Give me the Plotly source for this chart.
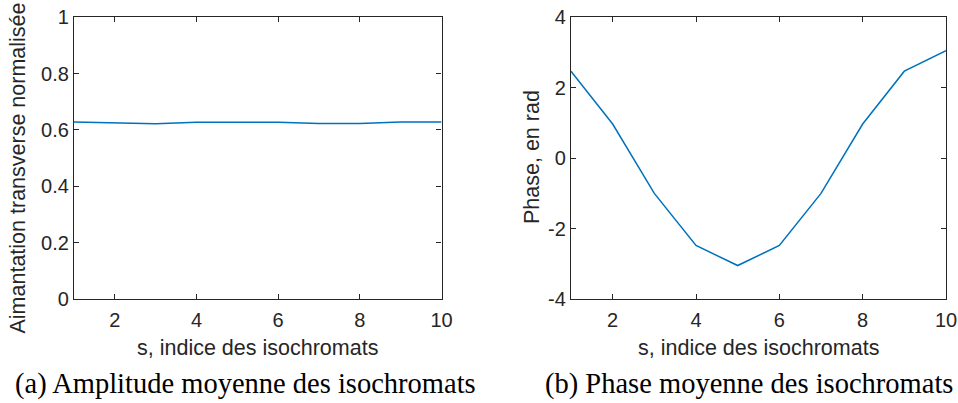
import plotly.graph_objects as go

# Data
s_index = [1, 2, 3, 4, 5, 6, 7, 8, 9, 10]
amplitude = [0.628, 0.624, 0.622, 0.627, 0.627, 0.627, 0.623, 0.623, 0.628, 0.628]
phase = [2.47, 0.97, -1.0, -2.48, -3.05, -2.48, -1.0, 0.97, 2.47, 3.05]

x_ticks = [2, 4, 6, 8, 10]
amp_ticks = [0, 0.2, 0.4, 0.6, 0.8, 1]
amp_ticklabels = ["0", "0.2", "0.4", "0.6", "0.8", "1"]
phase_ticks = [-4, -2, 0, 2, 4]
phase_ticklabels = ["-4", "-2", "0", "2", "4"]

xlabel = "s, indice des isochromats"
ylabel_a = "Aimantation transverse normalisée"
ylabel_b = "Phase, en rad"
caption_a = "(a) Amplitude moyenne des isochromats"
caption_b = "(b) Phase moyenne des isochromats"

W, H = 958, 403
LINE = "#0072BD"
AX = "#262626"
SANS = "Liberation Sans, Arial, sans-serif"
SERIF = "Liberation Serif, Times New Roman, serif"

fig = go.Figure()
fig.add_trace(go.Scatter(x=s_index, y=amplitude, mode="lines",
                         line=dict(color=LINE, width=1.5), xaxis="x", yaxis="y",
                         showlegend=False))
fig.add_trace(go.Scatter(x=s_index, y=phase, mode="lines",
                         line=dict(color=LINE, width=1.5), xaxis="x2", yaxis="y2",
                         showlegend=False))

def px_x(p):
    return p / W

def px_y(p):
    return 1 - p / H

common = dict(showgrid=False, zeroline=False, showline=True, linecolor=AX, linewidth=1.3,
              mirror="allticks", ticks="inside", ticklen=5, tickcolor=AX, tickwidth=1.2,
              ticklabeloverflow="allow", automargin=False,
              tickfont=dict(family=SANS, size=20, color=AX))

ydom = [px_y(299), px_y(17.3)]
fig.update_layout(
    template="none",
    width=W, height=H,
    margin=dict(l=0, r=0, t=0, b=0, autoexpand=False),
    paper_bgcolor="white", plot_bgcolor="white",
    showlegend=False,
    xaxis=dict(domain=[px_x(74), px_x(441.5)], range=[1, 10], tickvals=x_ticks,
               anchor="y", ticklabelstandoff=3, **common),
    yaxis=dict(domain=ydom, range=[0, 1], tickvals=amp_ticks, ticktext=amp_ticklabels,
               anchor="x", **common),
    xaxis2=dict(domain=[px_x(571), px_x(946)], range=[1, 10], tickvals=x_ticks,
                anchor="y2", ticklabelstandoff=3, **common),
    yaxis2=dict(domain=ydom, range=[-4, 4], tickvals=phase_ticks, ticktext=phase_ticklabels,
                anchor="x2", **common),
)

ann = []
tf = dict(family=SANS, size=21.5, color=AX)
ann.append(dict(text=xlabel, x=px_x(257.8), y=px_y(348), xref="paper", yref="paper",
                showarrow=False, font=tf, xanchor="center", yanchor="middle"))
ann.append(dict(text=xlabel, x=px_x(758.5), y=px_y(348), xref="paper", yref="paper",
                showarrow=False, font=tf, xanchor="center", yanchor="middle"))
ann.append(dict(text=ylabel_a, x=px_x(17.5), y=px_y(168), xref="paper", yref="paper",
                showarrow=False, font=tf, textangle=-90, xanchor="center", yanchor="middle"))
ann.append(dict(text=ylabel_b, x=px_x(532), y=px_y(157), xref="paper", yref="paper",
                showarrow=False, font=tf, textangle=-90, xanchor="center", yanchor="middle"))
cf = dict(family=SERIF, size=28.5, color="black")
ann.append(dict(text=caption_a, x=px_x(245), y=px_y(384), xref="paper", yref="paper",
                showarrow=False, font=cf, xanchor="center", yanchor="middle"))
ann.append(dict(text=caption_b, x=px_x(749), y=px_y(384), xref="paper", yref="paper",
                showarrow=False, font=cf, xanchor="center", yanchor="middle"))
fig.update_layout(annotations=ann)

fig.write_html("out.html", config={"displayModeBar": False},
               post_script="document.body.style.margin='0';document.body.style.overflow='hidden';")
